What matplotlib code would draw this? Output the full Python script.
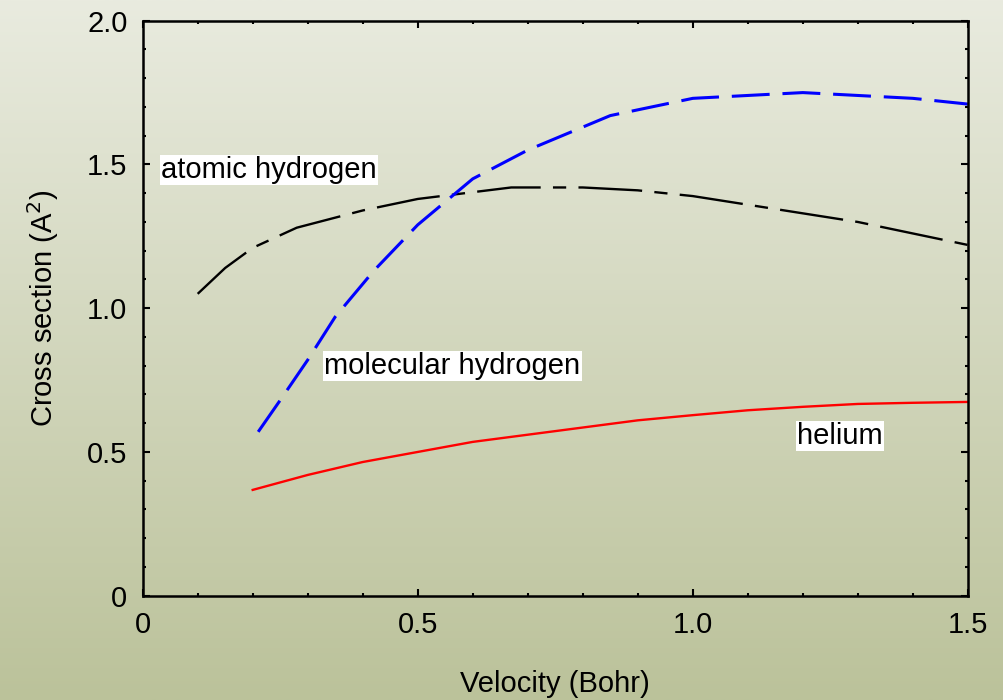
import numpy as np
import matplotlib
matplotlib.use("Agg")
import matplotlib.pyplot as plt
from matplotlib.colors import LinearSegmentedColormap
from matplotlib.ticker import MultipleLocator, FixedLocator, FixedFormatter

plt.rcParams['font.family'] = ['Liberation Sans', 'DejaVu Sans']

# Cross sections vs. projectile velocity
atomic_v = [0.10, 0.15, 0.20, 0.28, 0.40, 0.50, 0.67, 0.80, 0.90, 1.00, 1.10, 1.20, 1.30, 1.40, 1.50]
atomic_s = [1.05, 1.14, 1.21, 1.28, 1.34, 1.38, 1.42, 1.42, 1.41, 1.39, 1.36, 1.33, 1.30, 1.26, 1.22]

molecular_v = [0.21, 0.25, 0.30, 0.35, 0.42, 0.50, 0.60, 0.70, 0.85, 1.00, 1.10, 1.20, 1.30, 1.40, 1.50]
molecular_s = [0.57, 0.68, 0.82, 0.97, 1.13, 1.29, 1.45, 1.55, 1.67, 1.73, 1.74, 1.75, 1.74, 1.73, 1.71]

helium_v = [0.20, 0.30, 0.40, 0.50, 0.60, 0.70, 0.80, 0.90, 1.00, 1.10, 1.20, 1.30, 1.40, 1.50]
helium_s = [0.368, 0.42, 0.465, 0.50, 0.535, 0.56, 0.585, 0.61, 0.628, 0.645, 0.657, 0.667, 0.671, 0.674]

x_ticks = [0, 0.5, 1.0, 1.5]
x_tick_labels = ["0", "0.5", "1.0", "1.5"]
y_ticks = [0, 0.5, 1.0, 1.5, 2.0]
y_tick_labels = ["0", "0.5", "1.0", "1.5", "2.0"]

fig = plt.figure(figsize=(10.04, 7.0), dpi=100)

# vertical gradient backdrop
bg = fig.add_axes([0, 0, 1, 1], zorder=-10)
cmap = LinearSegmentedColormap.from_list("bg", ["#bbc29a", "#e9ebdf"])
grad = np.linspace(0, 1, 256).reshape(-1, 1)
bg.imshow(grad, aspect='auto', cmap=cmap, origin='lower', extent=[0, 1, 0, 1])
bg.set_axis_off()

ax = fig.add_axes([0.1421, 0.149, 0.8219, 0.8214])
ax.set_facecolor('none')

ax.plot(atomic_v, atomic_s, color='black', lw=1.7,
        linestyle=(0, (27, 5.2, 5.6, 5.2)))
ax.plot(molecular_v, molecular_s, color='#0000ff', lw=2.2,
        linestyle=(0, (12.4, 4.2)))
ax.plot(helium_v, helium_s, color='#ff0000', lw=1.7)

box = dict(facecolor='white', edgecolor='none', pad=0.8)
fs = 21
ax.text(0.033, 1.48, "atomic hydrogen", fontsize=fs, ha='left', va='center', bbox=box)
ax.text(0.33, 0.80, "molecular hydrogen", fontsize=fs, ha='left', va='center', bbox=box)
ax.text(1.19, 0.555, "helium", fontsize=fs, ha='left', va='center', bbox=box)

ax.set_xlim(0, 1.5)
ax.set_ylim(0, 2.0)
ax.xaxis.set_major_locator(FixedLocator(x_ticks))
ax.xaxis.set_major_formatter(FixedFormatter(x_tick_labels))
ax.yaxis.set_major_locator(FixedLocator(y_ticks))
ax.yaxis.set_major_formatter(FixedFormatter(y_tick_labels))
ax.xaxis.set_minor_locator(MultipleLocator(0.1))
ax.yaxis.set_minor_locator(MultipleLocator(0.1))

ax.tick_params(which='both', direction='in', top=True, right=True, width=1.5, labelsize=fs)
ax.tick_params(which='major', length=5, pad=11)
ax.tick_params(which='minor', length=2.5)
for s in ax.spines.values():
    s.set_linewidth(1.8)

ax.set_xlabel("Velocity (Bohr)", fontsize=fs, labelpad=22)
ax.set_ylabel("Cross section (A$^2$)", fontsize=fs, labelpad=19)

fig.savefig("out.png", dpi=100)
